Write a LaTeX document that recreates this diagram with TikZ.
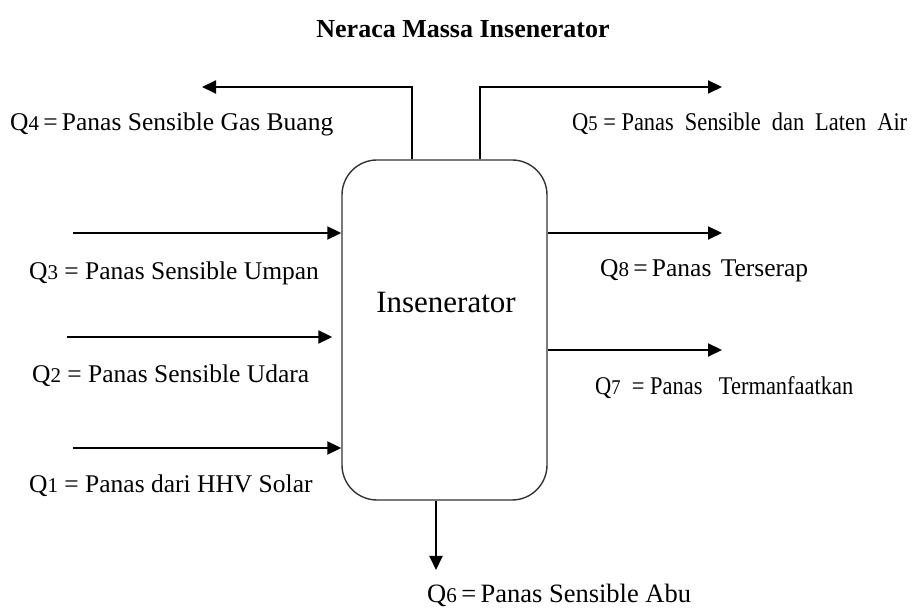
\documentclass[tikz,border=0pt]{standalone}
\usepackage{fontspec}
\setmainfont{Liberation Serif}
\newfontfamily\narrowfont{Liberation Serif}[FakeStretch=0.88]
\usetikzlibrary{arrows.meta}
\newcommand{\qsub}[1]{Q{\fontsize{21}{22}\selectfont #1}}

\begin{document}
\begin{tikzpicture}[x=1pt,y=1pt,
    flow/.style={line width=2pt,-{Triangle[length=14pt,width=13pt]}},
    label/.style={anchor=west,inner sep=0pt,font=\fontsize{25.5}{28}\selectfont}]
                \useasboundingbox (0,0) rectangle (915,609);
                % Insenerator
                \node[draw=black!80,line width=1.4pt,rounded corners=35pt,
                      minimum width=205pt,minimum height=340pt] (box) at (444.5,279) {};
                \node[font=\fontsize{31}{34}\selectfont] (name) at (446,306) {Insenerator};
                \node[font=\bfseries\fontsize{26}{30}\selectfont] (title) at (463,580) {Neraca Massa Insenerator};
                % Arrow ends
                \coordinate (q4) at (202,522);
                \coordinate (q5) at (722,522);
                \coordinate (q3) at (73,376);
                \coordinate (q2) at (67,272);
                \coordinate (q1) at (73,161);
                \coordinate (q8) at (722,376);
                \coordinate (q7) at (722,259);
                \coordinate (q6) at (436,39);
                % Streams out top
                \draw[flow] ([xshift=-32.5pt]box.north) |- (q4);
                \draw[flow] ([xshift=35.5pt]box.north) |- (q5);
                % Streams in
                \draw[flow] (q3) -- (q3 -| box.west);
                \draw[flow] (q2) -- ([xshift=-9pt]q2 -| box.west);
                \draw[flow] (q1) -- (q1 -| box.west);
                % Streams out
                \draw[flow] (box.east |- q8) -- (q8);
                \draw[flow] (box.east |- q7) -- (q7);
                \draw[flow] (box.south -| q6) -- (q6);
                % Labels
                \node[label] (l4) at (10,485) {\qsub{4}\,=\,Panas Sensible Gas Buang};
                \node[label] (l5) at (572,485) {\narrowfont\makebox[335pt][s]{\mbox{\qsub{5} = Panas} Sensible dan Laten Air}};
                \node[label] (l3) at (29,336) {\qsub{3} = Panas Sensible Umpan};
                \node[label] (l2) at (32,233) {\qsub{2} = Panas Sensible Udara};
                \node[label] (l1) at (29,123) {\qsub{1} = Panas dari HHV Solar};
                \node[label] (l8) at (600,338) {\makebox[208pt][s]{\qsub{8}\,=\,Panas Terserap}};
                \node[label] (l7) at (595,221) {\narrowfont\makebox[258pt][s]{\mbox{\qsub{7}\ \ = Panas} Termanfaatkan}};
                \node[label,font=\fontsize{26.5}{29}\selectfont] (l6) at (427,14) {\qsub{6}\,=\,Panas Sensible Abu};
\end{tikzpicture}
\end{document}
